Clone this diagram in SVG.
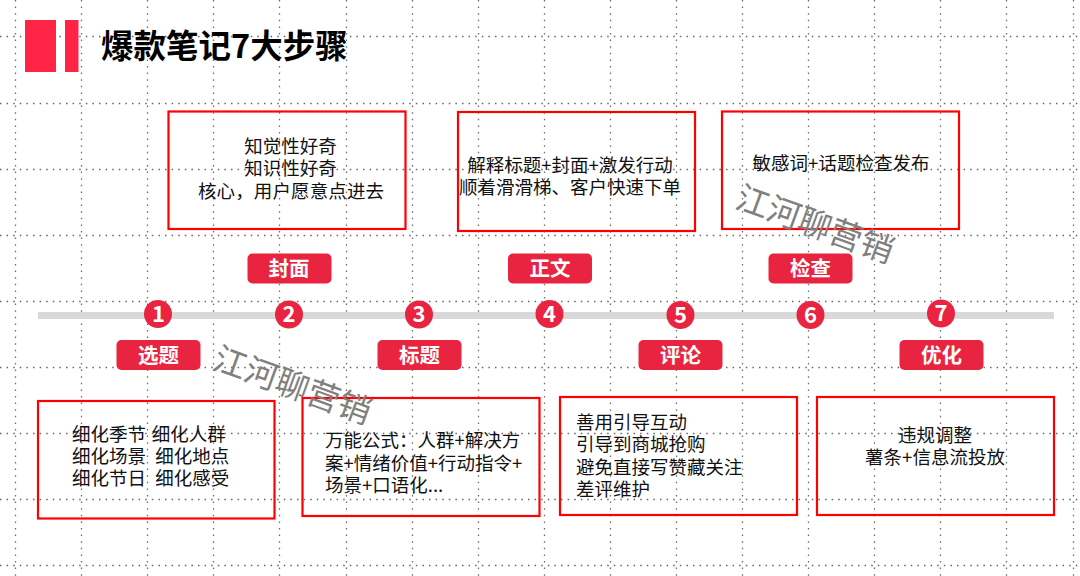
<svg xmlns="http://www.w3.org/2000/svg" width="1080" height="576" viewBox="0 0 1080 576">
<style>
text{font-family:"Noto Sans CJK SC","Noto Sans",sans-serif}
.v{stroke:#6e6e6e;stroke-width:1.3;stroke-dasharray:1.5 5.1;fill:none}
.h{stroke:#666;stroke-width:1.3;stroke-dasharray:1.5 5.1;fill:none}
.box{fill:none;stroke:#ff0000;stroke-width:2.2}
.t{font-size:18.5px;fill:#111}
.m{text-anchor:middle}
.pill{fill:#e92440}
.pt{font-size:20.500px;font-weight:700;fill:#fff;text-anchor:middle}
.c{fill:#e92440}
.n{font-size:22px;font-weight:700;fill:#fff;text-anchor:middle}
.wm{font-size:33px;fill:#808080}
</style>
<g id="grid">
<path class="v" d="M15.500 0V576M81.500 0V576M147.500 0V576M213.500 0V576M279.500 0V576M346.500 0V576M412.500 0V576M478.500 0V576M544.500 0V576M610.500 0V576M676.500 0V576M742.500 0V576M808.500 0V576M874.500 0V576M940.500 0V576M1006.500 0V576M1073.500 0V576"/>
<path class="h" d="M0 36.500H1080M0 103.500H1080M0 169.500H1080M0 235.500H1080M0 301.500H1080M0 367.500H1080M0 433.500H1080M0 499.500H1080M0 565.500H1080"/>
</g>
<g id="header">
<rect x="25" y="20" width="31" height="52" fill="#ff2345"/>
<rect x="65" y="20" width="13.500" height="52" fill="#ff2345"/>
<text x="101" y="58" font-size="32.500" font-weight="700" fill="#000">爆款笔记7大步骤</text>
</g>
<g id="connectors">
<rect x="38" y="312" width="1016" height="7" fill="#d9d9d9"/>
</g>
<g id="step1">
<circle class="c" cx="158" cy="314" r="14"/><text class="n" x="158.500" y="321.500">1</text>
<rect class="pill" x="116.500" y="340" width="84" height="30" rx="5"/><text class="pt" x="158.500" y="363">选题</text>
<rect class="box" x="38" y="401" width="236.500" height="117.500"/>
<text class="t" x="72" y="441" xml:space="preserve" word-spacing="1.500">细化季节 细化人群</text>
<text class="t" x="72" y="463" xml:space="preserve" word-spacing="0.500">细化场景  细化地点</text>
<text class="t" x="72" y="485" xml:space="preserve" word-spacing="0.500">细化节日  细化感受</text>
</g>
<g id="step2">
<circle class="c" cx="289" cy="314.500" r="14"/><text class="n" x="289" y="322">2</text>
<rect class="pill" x="247.500" y="253.500" width="84" height="30" rx="5"/><text class="pt" x="289" y="275.500">封面</text>
<rect class="box" x="168.500" y="111.500" width="237" height="117.500"/>
<text class="t m" x="290.500" y="153">知觉性好奇</text>
<text class="t m" x="290.500" y="175">知识性好奇</text>
<text class="t m" x="291" y="198" textLength="186">核心，用户愿意点进去</text>
</g>
<g id="step3">
<circle class="c" cx="419" cy="314.500" r="14"/><text class="n" x="419" y="322">3</text>
<rect class="pill" x="377.500" y="340" width="84" height="30" rx="5"/><text class="pt" x="419.500" y="363">标题</text>
<rect class="box" x="302.500" y="398" width="237" height="118"/>
<text class="t" x="325" y="447">万能公式：人群+解决方</text>
<text class="t" x="325" y="470">案+情绪价值+行动指令+</text>
<text class="t" x="325" y="492">场景+口语化...</text>
</g>
<g id="step4">
<circle class="c" cx="549.500" cy="314" r="14"/><text class="n" x="549.500" y="322">4</text>
<rect class="pill" x="508" y="253.500" width="84" height="30" rx="5"/><text class="pt" x="550" y="275.500">正文</text>
<rect class="box" x="458" y="112" width="237" height="119"/>
<text class="t m" x="570" y="172">解释标题+封面+激发行动</text>
<text class="t m" x="570" y="194">顺着滑滑梯、客户快速下单</text>
</g>
<g id="step5">
<circle class="c" cx="680.500" cy="315" r="14"/><text class="n" x="680.500" y="323">5</text>
<rect class="pill" x="638.500" y="340" width="84" height="30" rx="5"/><text class="pt" x="680.500" y="363">评论</text>
<rect class="box" x="560" y="397" width="237" height="118"/>
<text class="t" x="576" y="429">善用引导互动</text>
<text class="t" x="576" y="451">引导到商城抢购</text>
<text class="t" x="576" y="474">避免直接写赞藏关注</text>
<text class="t" x="576" y="496">差评维护</text>
</g>
<g id="step6">
<circle class="c" cx="810.500" cy="315" r="14"/><text class="n" x="810.500" y="323">6</text>
<rect class="pill" x="768.500" y="253.500" width="84" height="30" rx="5"/><text class="pt" x="810.500" y="275.500">检查</text>
<rect class="box" x="722" y="111.500" width="237" height="117.500"/>
<text class="t m" x="841" y="169.500">敏感词+话题检查发布</text>
</g>
<g id="step7">
<circle class="c" cx="941" cy="313.500" r="14"/><text class="n" x="941" y="321">7</text>
<rect class="pill" x="899.500" y="340" width="84" height="30" rx="5"/><text class="pt" x="941.500" y="363">优化</text>
<rect class="box" x="817" y="397" width="237" height="118"/>
<text class="t m" x="935" y="441.500">违规调整</text>
<text class="t m" x="935" y="463.500">薯条+信息流投放</text>
</g>
<g id="watermarks">
<text class="wm" transform="translate(211 368) rotate(20)">江河聊营销</text>
<text class="wm" transform="translate(733.500 207) rotate(20)">江河聊营销</text>
</g>
</svg>
